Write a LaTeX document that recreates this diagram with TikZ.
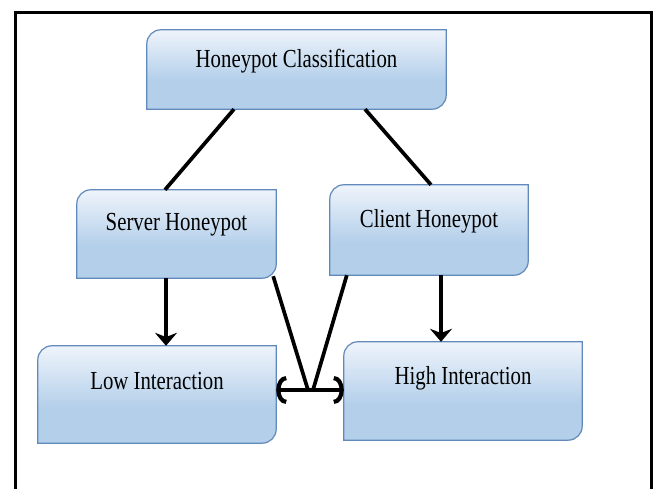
\documentclass[tikz,border=0pt]{standalone}
\usepackage{fontspec}
\setmainfont{Liberation Serif}[FakeStretch=0.8]
\usetikzlibrary{arrows.meta,calc}
\definecolor{boxtop}{HTML}{EFF4FB}
\definecolor{boxbot}{HTML}{B3CFEA}
\definecolor{boxline}{HTML}{6189BC}
\pgfdeclareverticalshading{honeyshade}{100bp}{color(0bp)=(boxbot); color(43bp)=(boxbot); color(75bp)=(boxtop); color(100bp)=(boxtop)}
\newcommand\honeybox[1]{%
  \path[boxshape] (#1.south west) -- ([yshift=-14pt]#1.north west)
    arc[start angle=180,end angle=90,radius=14pt] -- (#1.north east)
    -- ([yshift=14pt]#1.south east) arc[start angle=0,end angle=-90,radius=14pt] -- cycle;}
\tikzset{
  boxnode/.style={inner sep=0pt, draw=none},
  boxshape/.style={draw=boxline, line width=1.2pt, shading=honeyshade},
  lbl/.style={inner sep=0pt, font=\fontsize{26}{30}\selectfont},
  conn/.style={line width=3.7pt, black},
  downarrow/.style={-{Stealth[length=13pt,width=22pt]}},
  twoarrow/.style={{Arc Barb[width=28pt,length=10pt,line width=4.2pt]}-{Arc Barb[width=28pt,length=10pt,line width=4.2pt]}},
  frame/.style={line width=3pt, black}
}
\begin{document}
\begin{tikzpicture}[x=1pt,y=1pt]
\useasboundingbox (0,0) rectangle (653,489);
\draw[frame] (15.5,-5) -- (15.5,476.5) -- (651,476.5) -- (651,-5);
% boxes
\node[boxnode, minimum width=299pt, minimum height=79pt] (hc) at (296.5,419.5) {};
\node[boxnode, minimum width=199pt, minimum height=88pt] (sv) at (176.5,255) {};
\node[boxnode, minimum width=198pt, minimum height=90pt] (cl) at (429,259) {};
\node[boxnode, minimum width=238pt, minimum height=97pt] (lo) at (157,94.5) {};
\node[boxnode, minimum width=238pt, minimum height=98pt] (hi) at (463,98) {};
\honeybox{hc}\honeybox{sv}\honeybox{cl}\honeybox{lo}\honeybox{hi}
% labels
\node[lbl] (hct) at ([yshift=8.5pt]hc.center) {Honeypot Classification};
\node[lbl] (svt) at ([yshift=9pt]sv.center) {Server Honeypot};
\node[lbl] (clt) at ([yshift=9pt]cl.center) {Client Honeypot};
\node[lbl] (lot) at ([yshift=13pt]lo.center) {Low Interaction};
\node[lbl] (hit) at ([yshift=12.5pt]hi.center) {High Interaction};
% connectors
\draw[conn] ([xshift=-62.5pt]hc.south) -- ([xshift=-11.5pt]sv.north);
\draw[conn] ([xshift=68.5pt]hc.south) -- ([xshift=2pt]cl.north);
\draw[conn, downarrow] ([xshift=-10.5pt]sv.south) -- ([xshift=9pt]lo.north);
\draw[conn, downarrow] ([xshift=12pt]cl.south) -- ([xshift=-22pt]hi.north);
\coordinate (v1) at (308,99);
\coordinate (v2) at (313,99);
\draw[conn] ([xshift=-3pt,yshift=2pt]sv.south east) -- (v1);
\draw[conn] ([xshift=17pt]cl.south west) -- (v2);
\draw[conn, twoarrow] ([yshift=4.5pt]lo.east) -- ([yshift=1pt]hi.west);
\end{tikzpicture}
\end{document}
